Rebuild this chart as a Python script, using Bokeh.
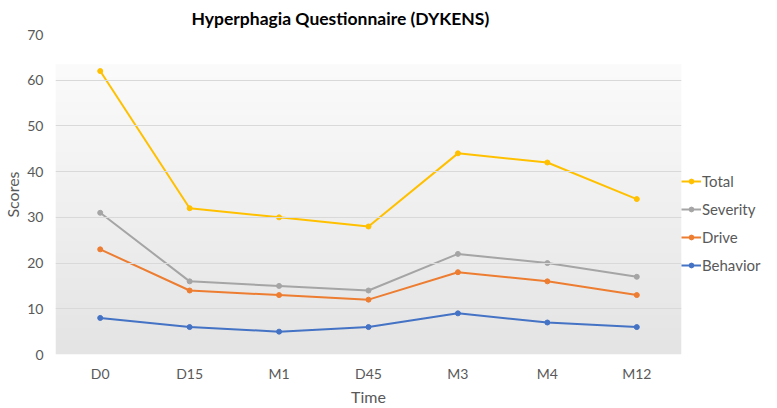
import numpy as np
from bokeh.plotting import figure
from bokeh.models import Legend, LegendItem, Range1d, FactorRange
from bokeh.embed import file_html
from bokeh.resources import INLINE

times = ["D0", "D15", "M1", "D45", "M3", "M4", "M12"]
total = [62, 32, 30, 28, 44, 42, 34]
severity = [31, 16, 15, 14, 22, 20, 17]
drive = [23, 14, 13, 12, 18, 16, 13]
behavior = [8, 6, 5, 6, 9, 7, 6]
y_ticks = [0, 10, 20, 30, 40, 50, 60, 70]

series = [
    ("Total", total, "#FFC000"),
    ("Severity", severity, "#A5A5A5"),
    ("Drive", drive, "#ED7D31"),
    ("Behavior", behavior, "#4472C4"),
]

FONT = "Lato"

p = figure(frame_width=626, frame_height=320, x_range=FactorRange(*times, range_padding=0),
           y_range=Range1d(0, 70), output_backend="svg", toolbar_location=None,
           min_border_left=10, min_border_right=0, min_border_top=0, min_border_bottom=0)

p.title.text = "Hyperphagia Questionnaire (DYKENS)"
p.title.text_font = FONT
p.title.text_font_size = "17.5px"
p.title.text_font_style = "bold"
p.title.text_color = "#000000"
p.title.align = "left"
p.title.offset = 136
p.title.standoff = 11

# vertical gradient background (white top -> light gray bottom)
n = 256
col = np.linspace(0, 1, n)  # 0 bottom -> 1 top
g = (228 + (251 - 228) * col).astype(np.uint32)
img = np.empty((n, 1), dtype=np.uint32)
view = img.view(dtype=np.uint8).reshape((n, 1, 4))
view[:, 0, 0] = g
view[:, 0, 1] = g
view[:, 0, 2] = g
view[:, 0, 3] = 255
p.image_rgba(image=[img], x=0, y=0, dw=len(times), dh=63.5, level="image")

p.outline_line_color = None
p.background_fill_color = "white"
p.border_fill_color = "white"

p.xgrid.grid_line_color = None
p.ygrid.grid_line_color = "#d9d9d9"
p.ygrid.grid_line_width = 1
p.ygrid.level = "glyph"
p.yaxis.ticker = y_ticks

for ax in (p.xaxis, p.yaxis):
    ax.axis_line_color = None
    ax.major_tick_line_color = None
    ax.minor_tick_line_color = None
    ax.major_tick_out = 0
    ax.major_tick_in = 0
    ax.major_label_text_font = FONT
    ax.major_label_text_font_size = "14px"
    ax.major_label_text_color = "#595959"
    ax.axis_label_text_font = FONT
    ax.axis_label_text_font_size = "16px"
    ax.axis_label_text_color = "#595959"
    ax.axis_label_text_font_style = "normal"

p.yaxis.major_label_standoff = 12
p.xaxis.major_label_standoff = 10
p.xaxis.axis_label = "Time"
p.yaxis.axis_label = "Scores"
p.xaxis.axis_label_standoff = 2
p.yaxis.axis_label_standoff = 2

items = []
for name, vals, color in series:
    r1 = p.line(times, vals, line_color=color, line_width=2)
    r2 = p.scatter(times, vals, marker="circle", size=5, fill_color=color, line_color=color)
    items.append(LegendItem(label=name, renderers=[r1, r2]))

legend = Legend(items=items, location=(0, 79), orientation="vertical")
legend.label_text_font = FONT
legend.label_text_font_size = "15px"
legend.label_text_color = "#595959"
legend.border_line_color = None
legend.background_fill_alpha = 0
legend.glyph_width = 20
legend.glyph_height = 12
legend.label_height = 20
legend.spacing = 8
legend.label_standoff = 1
legend.padding = 16
legend.margin = 0
p.add_layout(legend, "right")

open("out.html", "w").write(file_html(p, INLINE))
